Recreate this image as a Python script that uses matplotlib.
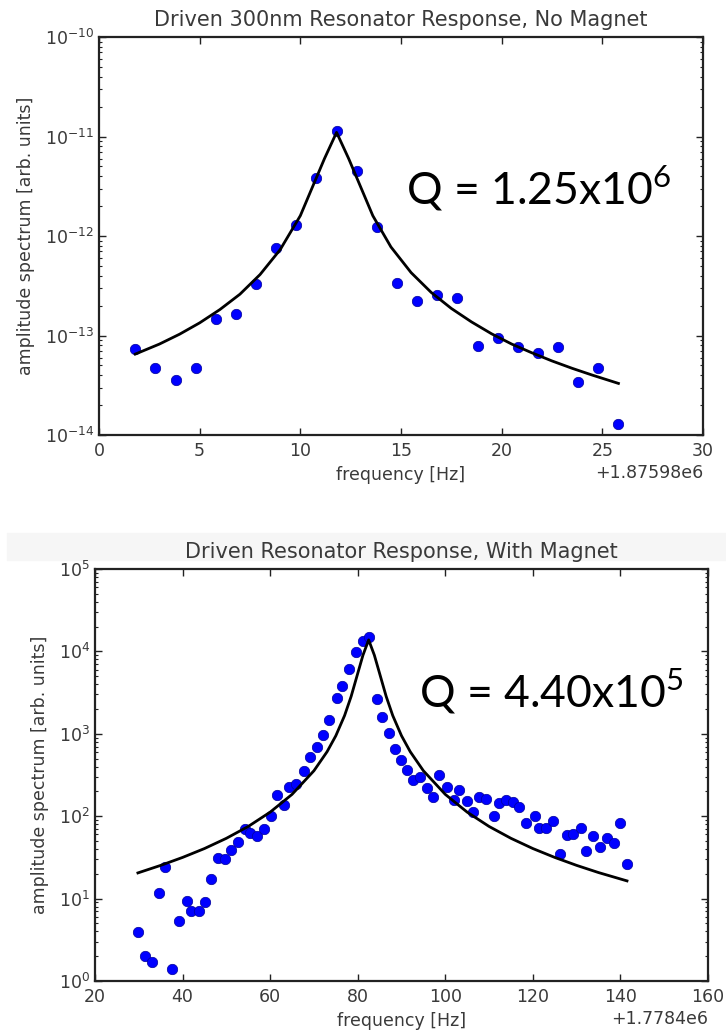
import matplotlib
matplotlib.use("Agg")
import matplotlib.pyplot as plt
from matplotlib.patches import Rectangle

plt.rcParams['mathtext.fontset'] = 'custom'
plt.rcParams['mathtext.rm'] = 'Lato'

# ---- top panel: no magnet ----
top_offset = 1875980.0
top_freq = [1.8, 2.8, 3.8, 4.8, 5.8, 6.8, 7.8, 8.8, 9.8, 10.8, 11.8, 12.8, 13.8,
            14.8, 15.8, 16.8, 17.8, 18.8, 19.8, 20.8, 21.8, 22.8, 23.8, 24.8, 25.8]
top_amp = [7.4e-14, 4.7e-14, 3.55e-14, 4.7e-14, 1.47e-13, 1.63e-13, 3.3e-13, 7.5e-13,
           1.3e-12, 3.8e-12, 1.14e-11, 4.5e-12, 1.24e-12, 3.4e-13, 2.24e-13, 2.56e-13,
           2.37e-13, 7.9e-14, 9.5e-14, 7.6e-14, 6.6e-14, 7.7e-14, 3.4e-14, 4.7e-14, 1.3e-14]

top_fit_freq = [1.8, 3.0, 4.0, 5.0, 6.0, 7.0, 8.0, 9.0, 10.0, 10.6, 11.2, 11.8,
                12.4, 13.0, 13.6, 14.5, 15.5, 16.5, 17.5, 18.5,
                19.5, 20.5, 21.5, 22.5, 23.5, 24.5, 25.8]
top_fit_amp = [6.5e-14, 8.2e-14, 1.03e-13, 1.34e-13, 1.82e-13, 2.6e-13, 4.1e-13, 7.3e-13,
               1.6e-12, 3.1e-12, 6.0e-12, 1.1e-11,
               6.0e-12, 3.1e-12, 1.6e-12, 7.76e-13,
               4.29e-13, 2.71e-13, 1.87e-13, 1.37e-13, 1.04e-13, 8.2e-14, 6.7e-14,
               5.55e-14, 4.68e-14, 4.0e-14, 3.3e-14]

# ---- bottom panel: with magnet ----
bot_offset = 1778400.0
bot_freq = [29.8, 31.4, 33.1, 34.6, 36.0, 37.5, 39.2, 40.9, 42.0, 43.7, 45.2, 46.6,
            48.1, 49.6, 51.1, 52.7, 54.2, 55.3, 57.0, 58.7, 60.2, 61.5, 63.1, 64.4,
            65.9, 67.7, 69.2, 70.7, 72.0, 73.5, 75.2, 76.5, 78.0, 79.5, 81.1, 82.6,
            84.3, 85.6, 87.1, 88.5, 90.0, 91.2, 92.7, 94.2, 95.8, 97.3, 98.5, 100.4,
            101.9, 103.2, 105.0, 106.3, 107.8, 109.4, 111.2, 112.3, 113.8, 115.5,
            116.9, 118.5, 120.4, 121.5, 123.1, 124.6, 126.2, 127.7, 129.2, 131.0,
            132.2, 133.8, 135.4, 136.9, 138.5, 139.8, 141.5]
bot_amp = [3.9, 2.0, 1.7, 11.7, 24, 1.4, 5.3, 9.3, 7.0, 7.0, 9.1, 17.5,
           30.7, 30, 39, 48, 69, 62, 58, 69, 101, 180, 136, 228,
           245, 357, 528, 686, 968, 1470, 2700, 3750, 6100, 9700, 13200, 15100,
           2630, 1620, 1035, 650, 480, 363, 275, 300, 218, 169, 316, 229,
           157, 208, 154, 112, 173, 160, 100, 146, 157, 148,
           128, 82, 100, 71, 71, 87, 35, 59, 60, 71,
           38, 57, 42, 55, 47, 82, 26]

bot_fit_freq = [29.8, 35, 40, 45, 50, 55, 60, 65, 70, 73, 75, 77, 78.5, 80.0, 81.2,
                82.5, 83.8, 85.0, 86.5, 88, 90, 92, 95, 100,
                105, 110, 115, 120, 125, 130, 135, 141.5]
bot_fit_amp = [20.5, 25.3, 31.6, 40.5, 53.9, 75.1, 112, 184, 356, 606, 947, 1665,
               2845, 5400, 9000, 13800, 9000, 5400, 2845,
               1665, 947, 606, 356, 184, 112, 75.1, 53.9, 40.5, 31.6, 25.3, 20.7, 16.4]

gray = '#3a3a3a'

fig = plt.figure(figsize=(7.26, 10.34), dpi=100)

# faint band behind the lower title (screenshot seam)
fig.patches.append(Rectangle((0.01, 1 - 560 / 1034), 0.99, 27 / 1034,
                             transform=fig.transFigure, color='#f6f6f6', zorder=-5))

ax1 = fig.add_axes([99 / 726, 1 - 435 / 1034, 604 / 726, 398 / 1034])
ax2 = fig.add_axes([95 / 726, 1 - 981 / 1034, 613 / 726, 412 / 1034])
ax1.patch.set_alpha(0)
ax2.patch.set_alpha(0)


def style(ax):
    ax.set_yscale('log')
    ax.tick_params(which='both', direction='in', top=True, right=True,
                   colors='#222222', labelcolor=gray, labelsize=12.5)
    ax.tick_params(which='major', length=5, width=1)
    ax.tick_params(which='minor', length=2.5, width=0.8)
    ax.tick_params(axis='x', pad=5)
    for s in ax.spines.values():
        s.set_linewidth(1.6)
        s.set_color('#222222')
    ax.xaxis.get_offset_text().set_color(gray)
    ax.xaxis.get_offset_text().set_fontsize(12.5)


tf = [top_offset + f for f in top_freq]
tff = [top_offset + f for f in top_fit_freq]
ax1.plot(tf, top_amp, 'o', color='#0000ff', mec='#000099', mew=0.5, ms=7.5)
ax1.plot(tff, top_fit_amp, '-', color='black', lw=2)
style(ax1)
ax1.set_xlim(top_offset, top_offset + 30)
ax1.set_ylim(1e-14, 1e-10)
ax1.set_xticks([top_offset + v for v in range(0, 31, 5)])
ax1.ticklabel_format(axis='x', useOffset=top_offset)
ax1.set_title('Driven 300nm Resonator Response, No Magnet', fontsize=15, color=gray, pad=8)
ax1.set_xlabel('frequency [Hz]', fontsize=12.5, color=gray)
ax1.set_ylabel('amplitude spectrum [arb. units]', fontsize=12.5, color=gray, labelpad=7)
ax1.text(0.508, 0.580, 'Q = 1.25x10$^6$', transform=ax1.transAxes, fontsize=32,
         family='Lato', va='baseline', ha='left', color='black')

bf = [bot_offset + f for f in bot_freq]
bff = [bot_offset + f for f in bot_fit_freq]
ax2.plot(bf, bot_amp, 'o', color='#0000ff', mec='#000099', mew=0.5, ms=7.5)
ax2.plot(bff, bot_fit_amp, '-', color='black', lw=2)
style(ax2)
ax2.set_xlim(bot_offset + 20, bot_offset + 160)
ax2.set_ylim(1, 1e5)
ax2.set_xticks([bot_offset + v for v in range(20, 161, 20)])
ax2.ticklabel_format(axis='x', useOffset=bot_offset)
ax2.set_title('Driven Resonator Response, With Magnet', fontsize=15, color=gray, pad=8)
ax2.set_xlabel('frequency [Hz]', fontsize=12.5, color=gray)
ax2.set_ylabel('amplitude spectrum [arb. units]', fontsize=12.5, color=gray, labelpad=7)
ax2.text(0.529, 0.663, 'Q = 4.40x10$^5$', transform=ax2.transAxes, fontsize=32,
         family='Lato', va='baseline', ha='left', color='black')

fig.savefig('out.png', dpi=100)
